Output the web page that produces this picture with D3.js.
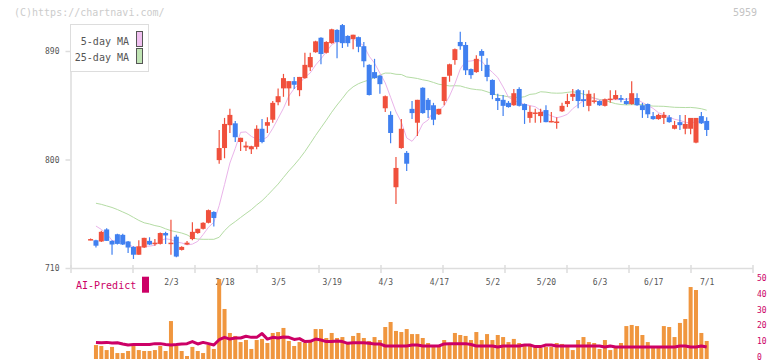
<!DOCTYPE html>
<html><head><meta charset="utf-8">
<script src="https://cdn.jsdelivr.net/npm/d3@7"></script>
<style>body{margin:0;background:#fff;}svg{display:block;}</style>
</head><body><svg id="c" width="772" height="361"></svg>
<script>
const dates = ["1/10","1/14","1/15","1/16","1/17","1/20","1/21","1/22","1/23","1/24","1/27","1/28","1/29","1/30","1/31",
"2/3","2/4","2/5","2/6","2/7","2/10","2/12","2/13","2/14","2/17","2/18","2/19","2/20","2/21","2/25","2/26","2/27","2/28",
"3/3","3/4","3/5","3/6","3/7","3/10","3/11","3/12","3/13","3/14","3/17","3/18","3/19","3/21","3/24","3/25","3/26","3/27","3/28","3/31",
"4/1","4/2","4/3","4/4","4/7","4/8","4/9","4/10","4/11","4/14","4/15","4/16","4/17","4/18","4/21","4/22","4/23","4/24","4/25","4/28","4/30",
"5/1","5/2","5/7","5/8","5/9","5/12","5/13","5/14","5/15","5/16","5/19","5/20","5/21","5/22","5/23","5/26","5/27","5/28","5/29","5/30",
"6/2","6/3","6/4","6/5","6/6","6/9","6/10","6/11","6/12","6/13","6/16","6/17","6/18","6/19","6/20","6/23","6/24","6/25","6/26","6/27","6/30","7/1"];
const open = [733.5,733,732,742,732.5,738,737.5,732,727.5,721,727,732.5,730,730,739,730.5,736,725,729.5,734,739,742.5,747.5,756.5,799.5,809.5,828.5,830,814.5,810,808.5,810.5,825.5,828,833,847.5,859,859,865,857.5,867.5,876.5,889,901,888.5,896.5,907.5,911.5,902.5,900,901.5,894,878.5,872.5,869.5,842.5,837,777,809.5,805.5,842,830.5,859.5,849.5,845,837.5,848.5,869.5,882.5,897.5,895,875,872.5,890,878.5,866,851,849.5,847,845,858.5,846,834.5,838.5,836,841,831.5,831,840,846,852,857.5,850,844.5,848.5,848.5,844.5,850,850,851,848.5,846,851,845,846,836,833.5,834.5,835,825.5,831,825.5,825.5,814,836,832];
const high = [734.5,733.5,741,743,733,738.5,738.5,732.5,728,733,735,735.5,734,739.5,740,750,737.5,728,732.5,748,742.5,748,758.5,757,824.5,834.5,842,832,818,815,811.5,828.5,833.5,835,848.5,859,871,865,868.5,868.5,888.5,888.5,898.5,901.5,898,908.5,908,912.5,903,903.5,902,897.5,879,883.5,870,853,840,802,833.5,807,848.5,849.5,860,851,847,842,868.5,879.5,892,906,897.5,875.5,886.5,891.5,884,866.5,854.5,853.5,848.5,858.5,860,846.5,844.5,842,842,845,839.5,835,847,854.5,858.5,858.5,857.5,857.5,855,849,850.5,857.5,857.5,853.5,851,865,855,847,846.5,839.5,838,839.5,837,832,837,837,834.5,834.5,839.5,835];
const low = [733,727,731.5,732.5,721,729.5,729,722.5,717.5,721,726.5,729,728.5,729.5,730,721,719,724.5,729,733,738.5,742,747,744.5,796.5,801,822,814.5,807,807,804.5,808.5,813.5,822,830.5,845,852,844.5,858.5,852.5,867,873.5,888.5,879,888,896,884,892.5,893.5,891.5,889,876.5,853,867,854.5,839.5,813.5,763,809,790.5,833.5,819.5,838,834.5,828.5,837,845,864.5,878.5,891,870,867,872,873.5,865,850,841,836,843,844.5,844,829.5,830.5,830.5,830.5,831,831,825.5,839.5,843.5,848.5,842.5,843.5,840,846.5,844.5,844,847,849.5,847.5,845.5,845.5,844.5,834.5,834.5,833,833,829.5,830.5,825,824.5,821,821,813.5,829.5,819.5];
const close = [734,728.5,740,732.5,729.5,730,729.5,727,721,728,735,729.5,731,739,737,731,719.5,727.5,731,740,742.5,747.5,758,751.5,809.5,829.5,837,818.5,818,811.5,811,825.5,814.5,831,847,852.5,867.5,865,862,868.5,878.5,885,898,887.5,897.5,908,897.5,896.5,896.5,903.5,893.5,881.5,853.5,867.5,862.5,852.5,822,793,825.5,796.5,838.5,849.5,838.5,841,833,842,868.5,879,891.5,894,874,870,883.5,886,868.5,853.5,848.5,844.5,843.5,855,844.5,841,839.5,839,839.5,831,832,831.5,844.5,848.5,854.5,848.5,848.5,854.5,849,845,850,850.5,853.5,849.5,846,855,845,841,837.5,833.5,837,837,831,828.5,828.5,829.5,834.5,834.5,830,824.5];
const ma5 = [null,744.8,742,738.5,732.9,732.1,732.3,729.7,727.4,727.1,728.1,728.1,728.9,732.5,734.3,733.5,731.5,730.8,729.2,729.8,732.1,737.7,743.8,747.9,761.8,779.2,797.1,809.2,822.5,822.9,819.2,816.9,816.1,818.7,825.8,834.1,842.5,852.6,858.8,863.1,868.3,871.8,878.4,883.5,889.3,895.2,897.7,897.4,899.2,900.4,897.5,894.3,885.7,879.9,871.7,863.5,851.6,839.5,831.1,817.9,815.1,820.6,829.7,832.8,840.1,840.8,844.6,852.7,862.8,875.0,881.4,881.7,882.6,881.5,876.4,872.3,868.0,860.2,851.7,849.0,847.2,845.7,844.7,843.8,840.7,838.0,836.2,834.6,835.7,837.5,842.2,845.5,848.9,850.9,851.0,849.1,849.4,849.8,849.6,849.7,849.9,850.9,849.8,847.3,844.9,842.4,838.8,837.2,835.2,833.4,832.4,830.9,830.4,831.1,831.4,830.6];
const ma25 = [null,763.7,762.8,761.5,760.2,758.5,756.5,754.5,752,749.5,747.5,746.5,745.2,744.3,742.5,741,740,739,737.5,735,734,733.8,733.8,733.8,735.5,741.0,745.3,748.5,751.9,755.2,758.4,762.3,765.8,770.2,774.9,779.6,785.1,790.5,795.4,800.7,806.6,813.2,820.0,826.3,832.6,839.2,845.2,850.7,856.5,860.3,862.9,864.6,866.0,868.0,870.1,871.7,871.6,870.7,870.5,868.5,867.9,867.2,866.1,865.3,863.9,862.4,861.8,861.0,861.2,861.0,859.7,858.6,858.0,857.6,856.2,854.6,853.3,852.9,852.0,851.7,851.4,852.1,854.0,854.5,856.2,855.9,855.2,855.0,855.1,855.7,856.2,855.4,854.2,852.7,850.9,849.8,849.0,847.6,846.3,845.6,845.3,845.5,845.6,845.5,844.8,844.3,844.2,844.1,843.7,843.3,843.2,843.1,843.2,842.8,842.1,840.9];
const volume = [null,8.9,8.3,5.7,7.7,3.8,3.8,5.1,8.3,5.7,5.1,5.1,5.7,8.3,5.1,24.2,8.3,5.1,1.9,7.7,5.1,3.8,8.9,6.4,51,31.9,16.6,14.7,10.8,12.1,6.4,12.1,12.8,10.2,16.6,17.2,19.8,11.5,8.3,10.8,10.2,12.1,19.1,19.1,13.4,16.6,13.4,14.0,9.6,14.7,16.6,13.4,11.5,14.0,12.1,20.4,23.6,17.9,17.2,19.1,15.9,15.9,13.4,10.2,8.9,8.3,12.1,8.9,16.6,15.3,14.7,12.1,17.2,12.1,15.9,12.1,15.3,14.0,10.8,12.8,10.2,8.9,9.6,8.3,7.0,7.7,7.7,10.2,9.6,7.7,5.7,12.1,14.0,10.8,10.2,6.4,12.1,5.7,7.7,10.2,21.0,21.7,21.0,15.3,10.8,8.3,8.3,21.0,20.4,14.0,23.0,25.5,45.9,44,16.6,11.5];
const aiPredict = [null,10.6,10.4,10.6,10.2,10.4,9.6,8.9,9.2,9.2,9.2,9.2,9.8,9.8,9.2,8.9,9.2,9.6,9.8,11.1,9.6,10.6,9.8,8.9,12.3,13.8,12.7,13.4,13.4,14.5,13.8,13.8,16.2,12.7,13.8,13.4,14.0,13.8,12.5,13.0,11.1,11.3,12.7,12.1,11.1,11.1,11.5,11.1,10.0,10.4,10.4,10.4,10.0,9.6,9.6,8.3,8.3,8.3,8.3,8.3,8.9,8.9,8.3,8.3,8.3,8.3,9.6,9.8,9.8,9.8,9.8,9.2,8.3,8.3,8.3,8.3,7.6,8.3,8.3,8.3,8.3,8.9,8.9,7.9,7.9,8.9,8.9,8.3,8.3,8.3,8.3,8.3,8.3,8.3,8.3,8.3,7.6,8.3,7.6,7.6,7.6,7.6,7.6,7.6,7.6,7.6,7.6,7.6,7.6,7.6,8.3,8.3,7.6,7.6,8.3,7.6];
const labelDates = ["2/3","2/18","3/5","3/19","4/3","4/17","5/2","5/20","6/3","6/17","7/1"];
const priceTicks = [710,800,890];
const volTicks = [0,10,20,30,40,50];
const legendItems = ["5-day MA","25-day MA"];

const UP="#f0503c", DOWN="#4080f0", MA5C="#eab4ea", MA25C="#b4dca4", VOLC="#f0963e", AIC="#cc0066";
const MONO="'DejaVu Sans Mono', 'Liberation Mono', monospace";
const svg = d3.select("#c");
const x = d3.scalePoint().domain(dates).range([90.6, 706.7]);
const y = d3.scaleLinear().domain([710, 912.4]).range([268, 24]);
const yv = d3.scaleLinear().domain([0, 50]).range([359, 280.6]);
const xg = d3.scaleLinear().domain([0, 11]).range([70.5, 752.5]);

svg.append("text").attr("x",14).attr("y",16).attr("font-family",MONO).attr("font-size",10).attr("fill","#cccccc").text("(C)https://chartnavi.com/");
svg.append("text").attr("x",757).attr("y",15.5).attr("text-anchor","end").attr("font-family",MONO).attr("font-size",10).attr("fill","#c4c4c4").text("5959");

const gx = svg.append("g").attr("transform","translate(0,268)")
  .call(d3.axisBottom(xg).tickValues(d3.range(12)).tickSizeOuter(0).tickFormat(""));
gx.select(".domain").attr("stroke","#dddddd").attr("stroke-width",1.5);
gx.selectAll(".tick line").attr("stroke","#dddddd").attr("stroke-width",1.5).attr("y1",-3).attr("y2",5);

const gy = svg.append("g").attr("transform","translate(70.5,0)")
  .call(d3.axisLeft(y).tickValues(priceTicks).tickSize(5).tickSizeOuter(0).tickPadding(6));
gy.select(".domain").attr("stroke","#dddddd").attr("stroke-width",1.5);
gy.selectAll(".tick line").attr("stroke","#dddddd").attr("stroke-width",1.5);
gy.selectAll(".tick text").attr("font-family",MONO).attr("font-size",8).attr("fill","#555");

const gd = svg.append("g").attr("transform","translate(0,268)")
  .call(d3.axisBottom(x).tickValues(labelDates).tickSize(0).tickPadding(11.4));
gd.select(".domain").remove();
gd.selectAll(".tick text").attr("font-family",MONO).attr("font-size",8).attr("fill","#555");

const idx = d3.range(dates.length);
const lineOf = arr => d3.line().defined(i => arr[i] != null).x(i => x(dates[i])).y(i => y(arr[i]));
svg.append("path").datum(idx).attr("d", lineOf(ma25)).attr("fill","none").attr("stroke",MA25C).attr("stroke-width",1);
svg.append("path").datum(idx).attr("d", lineOf(ma5)).attr("fill","none").attr("stroke",MA5C).attr("stroke-width",1);

const cg = svg.append("g");
const bw = 5;
idx.forEach(i => {
  const c = close[i] >= open[i] ? UP : DOWN;
  const cx = x(dates[i]);
  cg.append("line").attr("x1",cx).attr("x2",cx).attr("y1",y(high[i])).attr("y2",y(low[i])).attr("stroke",c).attr("stroke-width",1.2);
  const top = y(Math.max(open[i],close[i])), bot = y(Math.min(open[i],close[i]));
  cg.append("rect").attr("x",cx-bw/2).attr("width",bw).attr("y",top).attr("height",Math.max(1.5,bot-top)).attr("fill",c);
});

const lg = svg.append("g");
lg.append("rect").attr("x",70.5).attr("y",24.5).attr("width",78).attr("height",47).attr("fill","#fff").attr("stroke","#dddddd").attr("stroke-width",1);
legendItems.forEach((t,k) => {
  lg.append("text").attr("x",129).attr("y",45+16*k).attr("text-anchor","end").attr("font-family",MONO).attr("font-size",10).attr("fill","#555").text(t);
  lg.append("rect").attr("x",136.5).attr("y",31.5+17*k).attr("width",6).attr("height",15).attr("fill",k===0?"#f0c0f0":"#c0e4b4").attr("stroke","#555").attr("stroke-width",1);
});

svg.append("g").selectAll("rect").data(idx.filter(i => volume[i] != null)).join("rect")
  .attr("x", i => x(dates[i]) - 2).attr("width",4)
  .attr("y", i => yv(volume[i])).attr("height", i => yv(0) - yv(volume[i])).attr("fill",VOLC);
svg.append("path").datum(idx).attr("d", d3.line().defined(i => aiPredict[i] != null).x(i => x(dates[i])).y(i => yv(aiPredict[i])))
  .attr("fill","none").attr("stroke",AIC).attr("stroke-width",3).attr("stroke-linejoin","round");

const gv = svg.append("g").attr("transform","translate(752.5,-2.3)")
  .call(d3.axisRight(yv).tickValues(volTicks).tickSize(0).tickPadding(4.5));
gv.select(".domain").remove();
gv.selectAll(".tick text").attr("font-family",MONO).attr("font-size",8).attr("fill",AIC);

svg.append("text").attr("x",76).attr("y",289).attr("font-family",MONO).attr("font-size",10).attr("fill",AIC).text("AI-Predict");
svg.append("rect").attr("x",142).attr("y",276.7).attr("width",7).attr("height",16).attr("fill",AIC);
</script></body></html>
